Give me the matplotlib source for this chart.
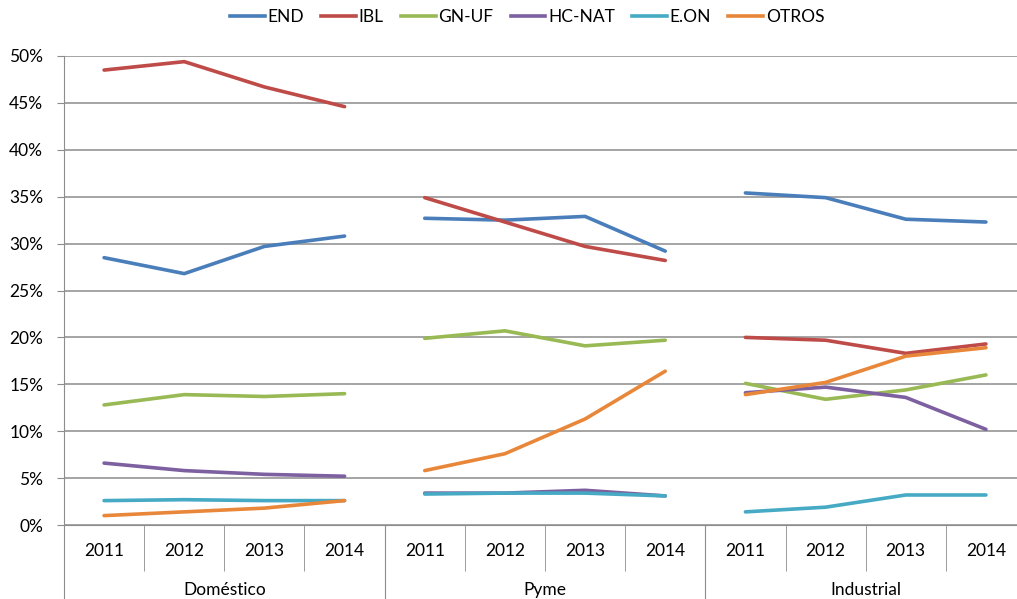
import numpy as np
from matplotlib import pyplot as plt
from matplotlib.lines import Line2D
from matplotlib.ticker import FuncFormatter

groups = ['Doméstico', 'Pyme', 'Industrial']
years = ['2011', '2012', '2013', '2014']
series = ['END', 'IBL', 'GN-UF', 'HC-NAT', 'E.ON', 'OTROS']
colors = ['#4A7EBB', '#BE4B48', '#98B954', '#7D60A0', '#46AAC5', '#E8873A']

# share per segment, one list of 4 years per group
end_vals    = [[28.5, 26.8, 29.7, 30.8], [32.7, 32.5, 32.9, 29.2], [35.4, 34.9, 32.6, 32.3]]
ibl_vals    = [[48.5, 49.4, 46.7, 44.6], [34.9, 32.3, 29.7, 28.2], [20.0, 19.7, 18.3, 19.3]]
gnuf_vals   = [[12.8, 13.9, 13.7, 14.0], [19.9, 20.7, 19.1, 19.7], [15.1, 13.4, 14.4, 16.0]]
hcnat_vals  = [[6.6, 5.8, 5.4, 5.2], [3.4, 3.4, 3.7, 3.1], [14.1, 14.7, 13.6, 10.2]]
eon_vals    = [[2.6, 2.7, 2.6, 2.6], [3.3, 3.4, 3.4, 3.1], [1.4, 1.9, 3.2, 3.2]]
otros_vals  = [[1.0, 1.4, 1.8, 2.6], [5.8, 7.6, 11.3, 16.4], [13.9, 15.2, 18.0, 18.9]]
all_vals = [end_vals, ibl_vals, gnuf_vals, hcnat_vals, eon_vals, otros_vals]

plt.rcParams['font.family'] = ['Lato', 'DejaVu Sans']
fs = 12.5

W, H = 1017, 599
fig = plt.figure(figsize=(W / 100, H / 100), dpi=100)
ncat = len(groups) * len(years)
ax = fig.add_axes([64 / W, (H - 525) / H, 962 / W, 469 / H])

for name, vals, c in zip(series, all_vals, colors):
    for g in range(len(groups)):
        x = np.arange(g * 4, g * 4 + 4)
        ax.plot(x, vals[g], color=c, lw=2.6, solid_capstyle='round')

ax.set_xlim(-0.5, ncat - 0.5)
ax.set_ylim(0, 50)
ax.set_yticks(np.arange(0, 51, 5))
ax.yaxis.set_major_formatter(FuncFormatter(lambda v, p: f'{v:.0f}%'))
ax.tick_params(axis='y', labelsize=fs, length=5, color='#8C8C8C', pad=10)
ax.grid(axis='y', color='#8C8C8C', lw=1.1)
ax.set_axisbelow(True)
for s in ['top', 'right']:
    ax.spines[s].set_visible(False)
ax.spines['left'].set_color('#8C8C8C')
ax.spines['bottom'].set_color('#8C8C8C')

# two-level category axis
ax.set_xticks([g * 4 - 0.5 for g in range(len(groups) + 1)])
ax.set_xticks(np.arange(-0.5, ncat, 1), minor=True)
ax.tick_params(axis='x', which='major', length=56, color='#8C8C8C', labelbottom=False)
ax.tick_params(axis='x', which='minor', length=33, color='#8C8C8C', labelbottom=False)
trans = ax.get_xaxis_transform()
for g, grp in enumerate(groups):
    for i, yr in enumerate(years):
        ax.text(g * 4 + i, -26 / 469, yr, transform=trans, ha='center', va='center', fontsize=fs)
    ax.text(g * 4 + 1.5, -65 / 469, grp, transform=trans, ha='center', va='center', fontsize=fs)

handles = [Line2D([], [], color=c, lw=2.6) for c in colors]
fig.legend(handles, series, loc='center', bbox_to_anchor=(527 / W, 1 - 17 / H), ncol=6,
           frameon=False, fontsize=fs, handlelength=2.0, handletextpad=0.15, columnspacing=1.0)

fig.savefig('out.png', dpi=100)
